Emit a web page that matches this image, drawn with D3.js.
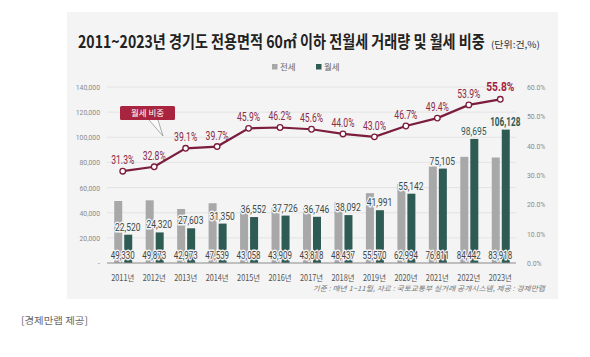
<!DOCTYPE html>
<html><head><meta charset="utf-8">
<script src="https://cdn.jsdelivr.net/npm/d3@7"></script>
<style>
body{margin:0;background:#fff;}
svg{display:block;}
.kr{font-family:"Noto Sans CJK KR","Noto Sans",sans-serif;}
.num{font-family:"Roboto","Noto Sans",sans-serif;}
</style></head>
<body>
<script>
const years = ["2011년","2012년","2013년","2014년","2015년","2016년","2017년","2018년","2019년","2020년","2021년","2022년","2023년"];
const jeonse = [49330,49873,42973,47539,43058,43909,43818,48437,55570,62994,76811,84442,83918];
const wolse = [22520,24320,27603,31350,36552,37726,36746,38092,41991,55142,75105,98695,106128];
const share = [31.3,32.8,39.1,39.7,45.9,46.2,45.6,44.0,43.0,46.7,49.4,53.9,55.8];
const leftTicks = [0,20000,40000,60000,80000,100000,120000,140000];
const rightTicks = [0,10,20,30,40,50,60];
const seriesNames = ["전세","월세"];

const W=590,H=357;
const svg=d3.select("body").append("svg").attr("width",W).attr("height",H);
function tl(s,dw,pw,cw){let w=0;for(const c of s){if(/[0-9]/.test(c))w+=dw;else if(c==="%")w+=cw;else w+=pw;}return w;}
// horizontally scale each text so its rendered width equals target
function fit(sel,target){
  sel.each(function(d,i){
    const t=typeof target==="function"?target.call(this,d,i):target;
    if(t==null)return;
    const el=d3.select(this);
    const len=this.getComputedTextLength();
    if(!len)return;
    const x0=+el.attr("x")||0,y0=+el.attr("y")||0;
    const prev=el.attr("transform")||"";
    el.attr("x",0).attr("y",0).attr("transform",prev+` translate(${x0},${y0}) scale(${t/len},1)`);
  });
}

svg.append("rect").attr("x",67).attr("y",12).attr("width",491).attr("height",287).attr("fill","#f4f4f4");

const x=d3.scaleBand().domain(years).range([107,516]);
const y=d3.scaleLinear().domain([0,140000]).range([263,87]);
const y2=d3.scaleLinear().domain([0,60]).range([263,87]);
const cx=d=>x(d)+x.bandwidth()/2;

// title
fit(svg.append("text").attr("class","kr").attr("x",78).attr("y",48).attr("font-size",17).attr("font-weight",700)
  .attr("fill","#222").text("2011~2023년 경기도 전용면적 60㎡ 이하 전월세 거래량 및 월세 비중"),407);
fit(svg.append("text").attr("class","kr").attr("x",491).attr("y",48).attr("font-size",9.5)
  .attr("fill","#333").text("(단위:건,%)"),49);

// gridlines
svg.append("g").selectAll("line").data(leftTicks.filter(d=>d>0)).join("line")
  .attr("x1",107).attr("x2",516).attr("y1",d=>y(d)).attr("y2",d=>y(d))
  .attr("stroke","#e0e0e0").attr("stroke-width",0.8);

// left axis
const gl=svg.append("g").attr("transform","translate(100,0)")
  .call(d3.axisLeft(y).tickValues(leftTicks).tickSize(0).tickPadding(0).tickFormat(d=>d===0?"-":d3.format(",")(d)));
gl.select(".domain").remove();
fit(gl.selectAll("text").attr("class","num").attr("font-size",8).attr("fill","#8a8a8a"),
  function(){const s=this.textContent;return s==="-"?null:tl(s,3.75,1.8,5);});
// right axis
const gr=svg.append("g").attr("transform","translate(527,0)")
  .call(d3.axisRight(y2).tickValues(rightTicks).tickSize(0).tickPadding(0).tickFormat(d=>d3.format(".1f")(d)+"%"));
gr.select(".domain").remove();
fit(gr.selectAll("text").attr("class","num").attr("font-size",8).attr("fill","#8a8a8a"),
  function(){return tl(this.textContent,3.7,1.8,5.5);});

// bars
const bw=8;
svg.append("g").selectAll("rect").data(years).join("rect")
  .attr("x",d=>cx(d)-8.5).attr("width",bw)
  .attr("y",(d,i)=>y(jeonse[i])).attr("height",(d,i)=>y(0)-y(jeonse[i])).attr("fill","#a8a8a8");
svg.append("g").selectAll("rect").data(years).join("rect")
  .attr("x",d=>cx(d)+1.5).attr("width",bw)
  .attr("y",(d,i)=>y(wolse[i])).attr("height",(d,i)=>y(0)-y(wolse[i])).attr("fill","#2f5b55");

// baseline
svg.append("line").attr("x1",107).attr("x2",516).attr("y1",y(0)).attr("y2",y(0)).attr("stroke","#8a8a8a").attr("stroke-width",1);

// x labels
fit(svg.append("g").selectAll("text").data(years).join("text").attr("class","kr")
  .attr("x",d=>cx(d)).attr("y",280.5).attr("text-anchor","middle").attr("font-size",8.5).attr("fill","#555")
  .text(d=>d),23);

// wolse labels
fit(svg.append("g").selectAll("text").data(years).join("text").attr("class","num")
  .attr("x",d=>cx(d)+5).attr("y",(d,i)=>y(wolse[i])-4).attr("text-anchor","middle")
  .attr("font-size",(d,i)=>i===12?12:11.5).attr("font-weight",(d,i)=>i===12?700:400)
  .attr("fill",(d,i)=>i>=11?"#2f5b55":"#3c4a48")
  .attr("stroke","#f4f4f4").attr("stroke-width",3).attr("paint-order","stroke").attr("stroke-linejoin","round")
  .text((d,i)=>d3.format(",")(wolse[i])),
  (d,i)=>tl(d3.format(",")(wolse[i]),4.7,2,6));

// jeonse labels at bottom
fit(svg.append("g").selectAll("text").data(years).join("text").attr("class","num")
  .attr("x",d=>cx(d)).attr("y",259).attr("text-anchor","middle").attr("font-size",11.5).attr("fill","#444")
  .attr("stroke","#f4f4f4").attr("stroke-width",3).attr("paint-order","stroke").attr("stroke-linejoin","round")
  .text((d,i)=>d3.format(",")(jeonse[i])),
  (d,i)=>tl(d3.format(",")(jeonse[i]),4.4,2,6));

// line
const line=d3.line().x((d,i)=>cx(years[i])).y(d=>y2(d));
svg.append("path").datum(share).attr("d",line).attr("fill","none").attr("stroke","#7b1d3c").attr("stroke-width",2.2);
svg.append("g").selectAll("circle").data(share).join("circle")
  .attr("cx",(d,i)=>cx(years[i])).attr("cy",d=>y2(d)).attr("r",2.8)
  .attr("fill","#fff").attr("stroke","#7b1d3c").attr("stroke-width",1.3);
fit(svg.append("g").selectAll("text").data(share).join("text").attr("class","num")
  .attr("x",(d,i)=>cx(years[i])).attr("y",(d,i)=>y2(d)-(i===12?8:7)).attr("text-anchor","middle")
  .attr("font-size",(d,i)=>i===12?13.5:12).attr("font-weight",(d,i)=>i===12?700:400)
  .attr("fill",(d,i)=>i===12?"#a3213f":"#8a2c48")
  .text(d=>d3.format(".1f")(d)+"%"),
  (d,i)=>i===12?28:tl(d3.format(".1f")(d)+"%",4.7,2,7));

// callout
svg.append("path").attr("d","M149,120 L163,136 L158,120").attr("fill","#fafafa").attr("stroke","#888").attr("stroke-width",0.7);
svg.append("rect").attr("x",120).attr("y",106).attr("width",55).attr("height",14).attr("rx",1.5).attr("fill","#a8243f");
svg.append("text").attr("class","kr").attr("x",147.5).attr("y",116.3).attr("text-anchor","middle").attr("font-size",8.5).attr("fill","#fff").text("월세 비중");

// legend
const lg=svg.append("g");
[[272,"#a8a8a8"],[316,"#2f5b55"]].forEach((p,i)=>{
  lg.append("rect").attr("x",p[0]).attr("y",64).attr("width",5.5).attr("height",5.5).attr("fill",p[1]);
  lg.append("text").attr("class","kr").attr("x",p[0]+8).attr("y",70).attr("font-size",8.5).attr("fill","#666").text(seriesNames[i]);
});

// footnote
fit(svg.append("text").attr("class","kr").attr("x",545).attr("y",291).attr("text-anchor","end").attr("font-size",7)
  .attr("font-style","italic").attr("fill","#777")
  .text("기준 : 매년 1~11월, 자료 : 국토교통부 실거래 공개시스템, 제공 : 경제만랩"),233);
fit(svg.append("text").attr("class","kr").attr("x",21).attr("y",324).attr("font-size",9.5).attr("fill","#666")
  .text("[경제만랩 제공]"),67);
</script>
</body></html>
